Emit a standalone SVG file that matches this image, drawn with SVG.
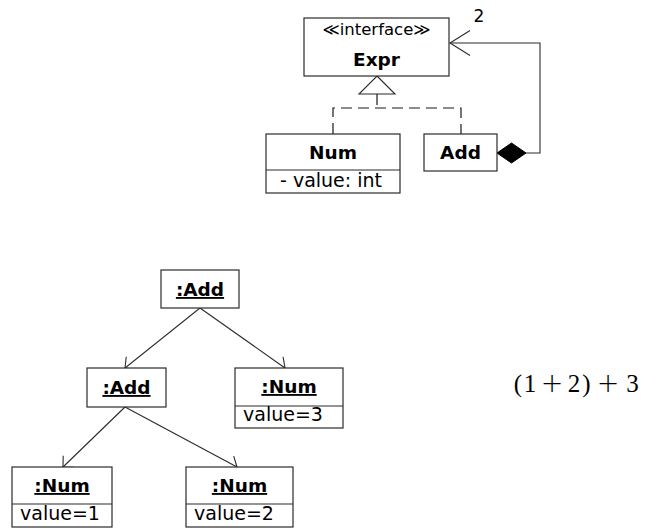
<svg xmlns="http://www.w3.org/2000/svg" width="645" height="529" viewBox="0 0 645 529">
  <defs>
    <style>
      .box { fill: #ffffff; stroke: #2b2b2b; stroke-width: 1.2; }
      .sep { stroke: #2b2b2b; stroke-width: 1.2; }
      .edge { fill: none; stroke: #2b2b2b; stroke-width: 1.1; }
      .dash { fill: none; stroke: #1a1a1a; stroke-width: 1.2; stroke-dasharray: 11 6; }
      .name { font-family: "DejaVu Sans", "Liberation Sans", sans-serif; font-weight: bold; font-size: 18.5px; fill: #000; text-anchor: middle; }
      .obj { text-decoration: underline; }
      .attr { font-family: "DejaVu Sans", "Liberation Sans", sans-serif; font-size: 19px; fill: #000; }
      .stereo { font-family: "DejaVu Sans", "Liberation Sans", sans-serif; font-size: 16.5px; fill: #000; text-anchor: middle; }
      .math { font-family: "Liberation Serif", "DejaVu Serif", serif; font-size: 25px; fill: #000; text-anchor: middle; }
      .op { font-family: "DejaVu Sans", "Liberation Sans", sans-serif; font-weight: 200; font-size: 27px; }
    </style>
    <marker id="open" markerUnits="userSpaceOnUse" markerWidth="20" markerHeight="20" viewBox="-10 -10 20 20" refX="0" refY="0" orient="auto" overflow="visible">
      <path d="M-8,-8 L0,0 L-8,8" fill="none" stroke="#2b2b2b" stroke-width="1.1"/>
    </marker>
    <marker id="nav" markerUnits="userSpaceOnUse" markerWidth="30" markerHeight="30" viewBox="-25 -15 30 30" refX="0" refY="0" orient="auto" overflow="visible">
      <path d="M-20,-12.5 L0,0 L-20,12.5" fill="none" stroke="#2b2b2b" stroke-width="1.1"/>
    </marker>
  </defs>

  <!-- class diagram -->
  <g id="connectors-class">
    <path class="dash" d="M377,94 V108 M333,134 V108 H461 V134"/>
    <path d="M377,76 L395,94 L359,94 Z" fill="#ffffff" stroke="#2b2b2b" stroke-width="1.1"/>
    <path class="edge" d="M526,153 H540 V43 H450" marker-end="url(#nav)"/>
    <path d="M497,153 L511.5,143 L526,153 L511.5,163 Z" fill="#000" stroke="#000" stroke-width="1"/>
    <text x="479" y="22" class="stereo" style="font-size:17px">2</text>
  </g>

  <g id="expr">
    <rect class="box" x="304" y="18" width="145" height="58"/>
    <text class="stereo" x="376.5" y="35">≪interface≫</text>
    <text class="name" x="376.5" y="66">Expr</text>
  </g>

  <g id="num">
    <rect class="box" x="266" y="134" width="134" height="59"/>
    <line class="sep" x1="266" y1="170" x2="400" y2="170"/>
    <text class="name" x="333" y="159">Num</text>
    <text class="attr" x="280" y="187">- value: int</text>
  </g>

  <g id="add">
    <rect class="box" x="424" y="134" width="73" height="37"/>
    <text class="name" x="460.5" y="159">Add</text>
  </g>

  <!-- object diagram -->
  <g id="connectors-objects">
    <line class="edge" x1="200" y1="308" x2="125" y2="368" marker-end="url(#open)"/>
    <line class="edge" x1="200" y1="308" x2="285" y2="368" marker-end="url(#open)"/>
    <line class="edge" x1="125" y1="407" x2="63" y2="467" marker-end="url(#open)"/>
    <line class="edge" x1="125" y1="407" x2="237" y2="467" marker-end="url(#open)"/>
  </g>

  <g id="add-root">
    <rect class="box" x="161" y="270" width="78" height="38"/>
    <text class="name obj" x="200" y="296">:Add</text>
  </g>

  <g id="add-inner">
    <rect class="box" x="87" y="368" width="79" height="39"/>
    <text class="name obj" x="126.5" y="394">:Add</text>
  </g>

  <g id="num-3">
    <rect class="box" x="235" y="368" width="108" height="60"/>
    <line class="sep" x1="235" y1="406" x2="343" y2="406"/>
    <text class="name obj" x="289" y="393">:Num</text>
    <text class="attr" x="243" y="421">value=3</text>
  </g>

  <g id="num-1">
    <rect class="box" x="12" y="467" width="100" height="60"/>
    <line class="sep" x1="12" y1="504" x2="112" y2="504"/>
    <text class="name obj" x="62" y="492">:Num</text>
    <text class="attr" x="20" y="520">value=1</text>
  </g>

  <g id="num-2">
    <rect class="box" x="186" y="467" width="107" height="60"/>
    <line class="sep" x1="186" y1="504" x2="293" y2="504"/>
    <text class="name obj" x="239.5" y="492">:Num</text>
    <text class="attr" x="194" y="520">value=2</text>
  </g>

  <!-- expression -->
  <g id="expression">
    <text class="math" y="392"><tspan x="518">(</tspan><tspan x="530">1</tspan><tspan class="op" x="552">+</tspan><tspan x="574">2</tspan><tspan x="586.5">)</tspan><tspan class="op" x="608">+</tspan><tspan x="632.5">3</tspan></text>
  </g>
</svg>
